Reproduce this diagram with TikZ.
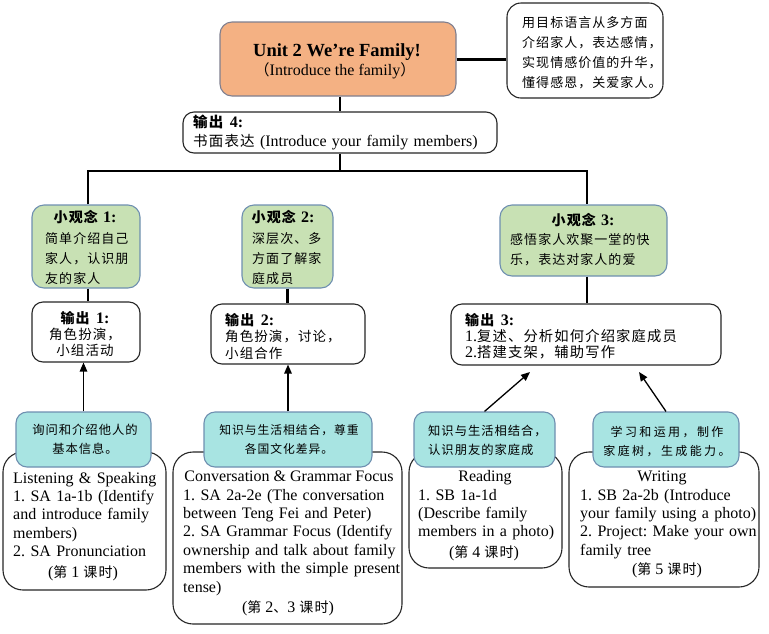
\documentclass[tikz,border=0pt]{standalone}
\usepackage{fontspec}
\setmainfont{Liberation Serif}
\newfontfamily\cjk[LetterSpace=8]{Noto Sans CJK SC}
\newfontfamily\cjkwide[LetterSpace=20]{Noto Sans CJK SC}
\usetikzlibrary{arrows.meta}
\definecolor{orangefill}{HTML}{F4B183}
\definecolor{greenfill}{HTML}{C8E1B4}
\definecolor{cyanfill}{HTML}{A8E4E2}
\definecolor{edgeblue}{HTML}{6E8FB0}
\definecolor{edgegray}{HTML}{7F7F8F}
\newcommand\zh[2][14]{{\cjk\fontsize{#1}{#1}\selectfont #2}}
\newcommand\zhb[2][14]{{\cjk\bfseries\fontsize{#1}{#1}\selectfont #2}}
\frenchspacing
\begin{document}
\begin{tikzpicture}[x=1pt,y=-1pt,
  rbox/.style={draw=black!85, line width=1.1pt, rounded corners=11pt, inner sep=0pt},
  wbox/.style={rbox, fill=white},
  bigbox/.style={rbox, fill=white, rounded corners=20pt},
  obox/.style={rbox, draw=edgegray, fill=orangefill, rounded corners=12pt},
  gbox/.style={rbox, draw=edgeblue, fill=greenfill, rounded corners=12pt},
  cbox/.style={rbox, draw=edgeblue, fill=cyanfill, rounded corners=11pt},
  en/.style={inner sep=0pt, font=\frenchspacing\fontsize{16}{18.4}\selectfont},
  enl/.style={en, anchor=base west, align=left, text width=#1},
  enc/.style={en, anchor=base, align=center, text width=#1},
  zhl/.style={inner sep=0pt, anchor=base west, align=left, text width=#1},
  zhc/.style={inner sep=0pt, anchor=base, align=center, text width=#1},
  tree/.style={line width=2.6pt},
  arr/.style={line width=1.3pt, -{Triangle[length=9pt,width=7.5pt]}}
]
\useasboundingbox (0,0) rectangle (769,633);

% ---- boxes ----
\node[obox, minimum width=236pt, minimum height=74pt] (title) at (338,59) {};
\node[wbox, rounded corners=14pt, minimum width=156pt, minimum height=95pt] (note) at (585,50.5) {};
\node[wbox, minimum width=314pt, minimum height=41pt] (out4) at (340,132.5) {};
\node[gbox, minimum width=108pt, minimum height=83pt] (idea1) at (86,246.5) {};
\node[gbox, minimum width=91pt, minimum height=83pt] (idea2) at (287.5,246.5) {};
\node[gbox, minimum width=167pt, minimum height=71pt] (idea3) at (583.5,240.5) {};
\node[wbox, minimum width=108pt, minimum height=60pt] (out1) at (86,332) {};
\node[wbox, minimum width=154pt, minimum height=60pt] (out2) at (288,334) {};
\node[wbox, minimum width=270pt, minimum height=61pt] (out3) at (586,334.5) {};
\node[bigbox, minimum width=163pt, minimum height=138pt] (w1) at (84.5,521) {};
\node[bigbox, minimum width=229pt, minimum height=172pt] (w2) at (287.5,538) {};
\node[bigbox, minimum width=153pt, minimum height=116pt] (w3) at (485.5,510) {};
\node[bigbox, minimum width=190pt, minimum height=135pt] (w4) at (664,519.5) {};
\node[cbox, minimum width=135pt, minimum height=55pt] (c1) at (83.5,439.5) {};
\node[cbox, minimum width=168pt, minimum height=55pt] (c2) at (288,439.5) {};
\node[cbox, minimum width=141pt, minimum height=55pt] (c3) at (484.5,439.5) {};
\node[cbox, minimum width=146pt, minimum height=55pt] (c4) at (666,439.5) {};

% ---- connectors ----
\coordinate (jL) at (88,171);
\coordinate (jR) at (587,171);
\coordinate (a3) at (530,372);
\coordinate (a4) at (639,372);
\draw[tree, line width=3pt] (title.east) -- (title.east -| note.west);
\draw[tree] (title.south -| out4.north) -- (out4.north);
\draw[tree] (out4.south) -- (out4.south |- jL);
\draw[tree] (idea1.north -| jL) -- (jL) -- (jR) -- (idea3.north -| jR);
\draw[tree] (idea1.south -| jL) -- (out1.north -| jL);
\draw[tree] (idea2.south) -- (idea2.south |- out2.north);
\draw[tree] (idea3.south -| jR) -- (out3.north -| jR);
\draw[arr] (c1.north) -- (c1.north |- out1.south);
\draw[arr] (c2.north) -- (c2.north |- out2.south);
\draw[arr] (c3.north) -- (a3);
\draw[arr] (c4.north) -- (a4);

% ---- texts ----
\node[inner sep=0pt, anchor=base, font=\fontsize{18.5}{20}\selectfont\bfseries] (tt1) at (337,56) {Unit 2 We’re Family!};
\node[inner sep=0pt, anchor=base, font=\fontsize{16}{18}\selectfont] (tt2) at (335,75) {\zh[15]{（}Introduce the family\zh[15]{）}};
\node[zhl=150pt, font=\cjk\fontsize{13}{20}\selectfont] (tnote) at (522,27) {用目标语言从多方面\\介绍家人，表达感情，\\实现情感价值的升华，\\懂得感恩，关爱家人。};
\node[enl=300pt, font=\frenchspacing\fontsize{16}{19}\selectfont] (tout4) at (193,127) {\zhb[14.5]{输出} \textbf{4:}\\\zh[14.5]{书面表达} (Introduce your family members)};

\node[inner sep=0pt, anchor=base, font=\fontsize{16}{18}\selectfont] (ti1h) at (85,222) {\zhb[14]{小观念} \textbf{1:}};
\node[zhl=100pt, font=\cjk\fontsize{13}{20}\selectfont] (ti1) at (45,243) {简单介绍自己\\家人，认识朋\\友的家人};
\node[inner sep=0pt, anchor=base, font=\fontsize{16}{18}\selectfont] (ti2h) at (283,222) {\zhb[14]{小观念} \textbf{2:}};
\node[zhl=90pt, font=\cjk\fontsize{13}{20}\selectfont] (ti2) at (252,243) {深层次、多\\方面了解家\\庭成员};
\node[inner sep=0pt, anchor=base, font=\fontsize{16}{18}\selectfont] (ti3h) at (583,225) {\zhb[14]{小观念} \textbf{3:}};
\node[zhl=160pt, font=\cjk\fontsize{13}{20}\selectfont] (ti3) at (510,244) {感悟家人欢聚一堂的快\\乐，表达对家人的爱};

\node[enc=100pt, font=\frenchspacing\fontsize{16}{16}\selectfont] (to1) at (85,323) {\zhb[14]{输出} \textbf{1:}\\\zh[13.5]{角色扮演，}\\\zh[13.5]{小组活动}};
\node[enl=140pt, font=\frenchspacing\fontsize{16}{16.5}\selectfont] (to2) at (225,325) {\zhb[14]{输出} \textbf{2:}\\\zh[13.5]{角色扮演，讨论，}\\\zh[13.5]{小组合作}};
\node[enl=250pt, font=\frenchspacing\fontsize{16}{16}\selectfont] (to3) at (465,325) {\zhb[14]{输出} \textbf{3:}\\1.\zh[14.3]{复述、分析如何介绍家庭成员}\\2.\zh[14.3]{搭建支架，辅助写作}};

\node[zhc=130pt, font=\cjk\fontsize{12.3}{19.5}\selectfont] (tc1) at (85,434) {询问和介绍他人的\\基本信息。};
\node[zhc=165pt, font=\cjk\fontsize{11.8}{19.5}\selectfont] (tc2) at (289,434) {知识与生活相结合，尊重\\各国文化差异。};
\node[zhl=135pt, font=\cjk\fontsize{12.3}{19}\selectfont] (tc3) at (428,435) {知识与生活相结合，\\认识朋友的家庭成};
\node[zhc=140pt, font=\cjkwide\fontsize{12}{19.5}\selectfont] (tc4) at (667,436) {学习和运用，制作\\家庭树，生成能力。};

\node[enl=158pt] (tw1) at (13,483) {Listening \& Speaking\\1. SA 1a-1b (Identify\\and introduce family\\members)\\2. SA Pronunciation};
\node[en, anchor=base] (tw1f) at (83,577) {(\zh{第} 1 \zh{课时})};
\node[en, anchor=base] (tw2h) at (289,481) {Conversation \& Grammar Focus};
\node[enl=225pt] (tw2) at (183,500) {1. SA 2a-2e (The conversation\\between Teng Fei and Peter)\\2. SA Grammar Focus (Identify\\ownership and talk about family\\members with the simple present\\tense)};
\node[en, anchor=base] (tw2f) at (288,612) {(\zh{第} 2\zh{、}3 \zh{课时})};
\node[en, anchor=base] (tw3h) at (485,481) {Reading};
\node[enl=145pt] (tw3) at (418,500) {1. SB 1a-1d\\(Describe family\\members in a photo)};
\node[en, anchor=base] (tw3f) at (484,557) {(\zh{第} 4 \zh{课时})};
\node[en, anchor=base] (tw4h) at (662,481) {Writing};
\node[enl=185pt] (tw4) at (580,500) {1. SB 2a-2b (Introduce\\your family using a photo)\\2. Project: Make your own\\family tree};
\node[en, anchor=base] (tw4f) at (667,574) {(\zh{第} 5 \zh{课时})};
\end{tikzpicture}
\end{document}
